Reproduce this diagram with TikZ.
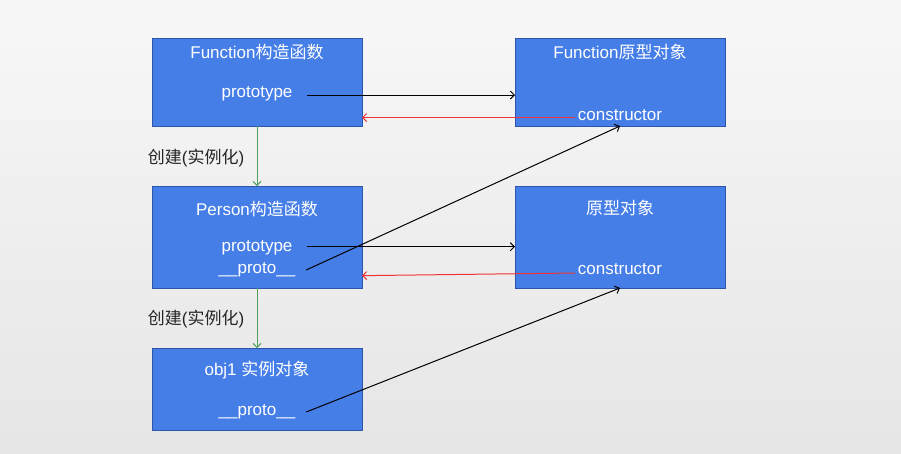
\documentclass[tikz,border=0pt]{standalone}
\usepackage{fontspec}
\setmainfont{Liberation Sans}
\newfontfamily\cjk{Noto Sans CJK SC}
\usetikzlibrary{arrows.meta}
\definecolor{boxblue}{RGB}{70,126,232}
\definecolor{boxedge}{RGB}{47,85,170}
\definecolor{linkred}{RGB}{240,50,50}
\definecolor{linkgreen}{RGB}{80,160,90}
\begin{document}
\begin{tikzpicture}[x=0.75pt,y=-0.75pt,font=\fontsize{12.75pt}{15pt}\selectfont,
  box/.style={draw=boxedge,fill=boxblue,line width=0.75pt,minimum width=157.5pt,anchor=north west,inner sep=0pt,outer sep=0pt},
  txt/.style={text=white,inner sep=2pt},
  lbl/.style={text=black!85},
  link/.style={-{Straight Barb[length=3pt,width=6pt]},line width=0.75pt}]
\shade[top color=white!97!black,bottom color=white!90!black] (0,0) rectangle (901,454);
\useasboundingbox (0,0) rectangle (901,454);
% boxes
\node[box,minimum height=66pt] (fc) at (152,38) {};
\node[box,minimum height=66pt] (fo) at (515,38) {};
\node[box,minimum height=76.5pt] (pc) at (152,186) {};
\node[box,minimum height=76.5pt] (po) at (515,186) {};
\node[box,minimum height=61.5pt] (oi) at (152,348) {};
% texts in the boxes
\node[txt] (fct) at (257,52) {Function{\cjk 构造函数}};
\node[txt] (fcp) at (257,94) {prototype};
\node[txt] (fot) at (620,52) {Function{\cjk 原型对象}};
\node[txt] (foc) at (620,115) {constructor};
\node[txt] (pct) at (257,209) {Person{\cjk 构造函数}};
\node[txt] (pcp) at (257,248) {prototype};
\node[txt] (pcq) at (257,270) {\_\_proto\_\_};
\node[txt] (pot) at (620,208) {\cjk 原型对象};
\node[txt] (poc) at (620,269) {constructor};
\node[txt] (oit) at (257,370) {obj1 {\cjk 实例对象}};
\node[txt] (oiq) at (257,412) {\_\_proto\_\_};
\node[lbl] (mk1) at (196,158) {{\cjk 创建}({\cjk 实例化})};
\node[lbl] (mk2) at (196,319) {{\cjk 创建}({\cjk 实例化})};
% links
\draw[link] ([xshift=9pt,yshift=-0.75pt]fcp.east) -- ([yshift=-0.75pt]fcp.east -| fo.west);
\draw[link,linkred] ([yshift=-1.9pt]foc.west) -- ([yshift=-1.9pt]foc.west -| fc.east);
\draw[link,linkgreen] (fc.south) -- (pc.north);
\draw[link] ([xshift=9pt,yshift=1pt]pcp.east) -- ([yshift=1pt]pcp.east -| po.west);
\draw[link] ([xshift=6pt]pcq.east) -- (fo.south);
\draw[link,linkred] ([yshift=-3pt]poc.west) -- ([yshift=-5pt]poc.west -| pc.east);
\draw[link,linkgreen] (pc.south) -- (oi.north);
\draw[link] ([xshift=6pt]oiq.east) -- (po.south);
\end{tikzpicture}
\end{document}
